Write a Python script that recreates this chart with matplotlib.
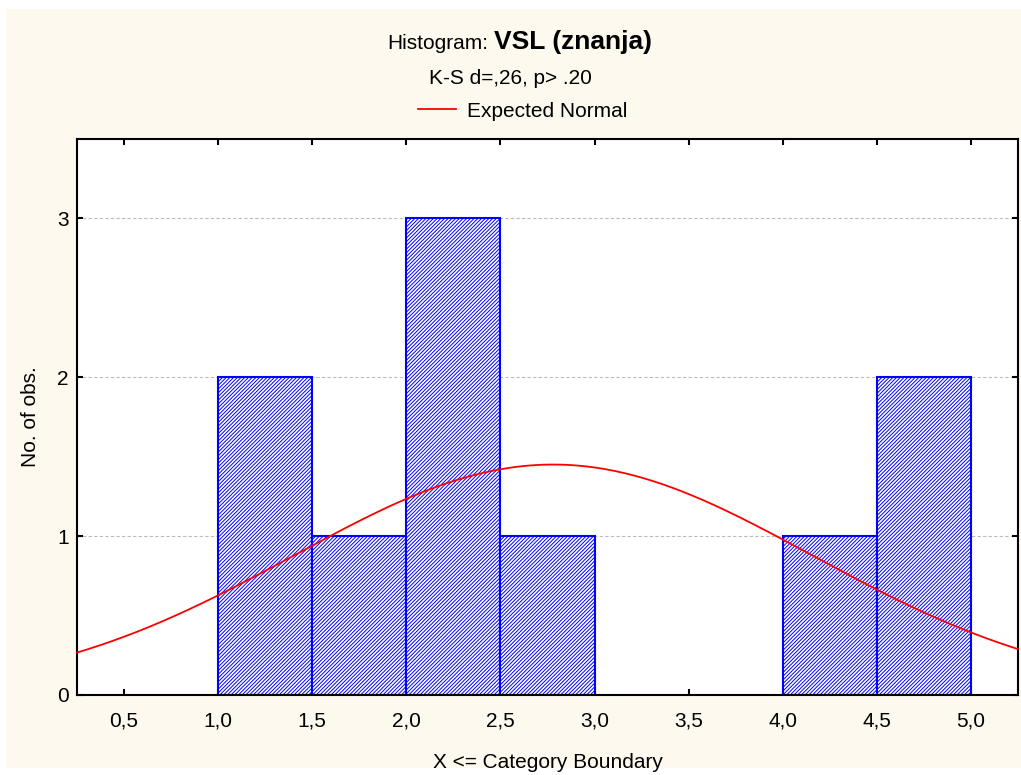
import matplotlib
matplotlib.use('Agg')

import numpy as np
import matplotlib.pyplot as plt
from matplotlib.patches import Rectangle
from matplotlib.lines import Line2D

plt.rcParams['font.family'] = ['Liberation Sans', 'DejaVu Sans']
plt.rcParams['hatch.color'] = '#0000ff'
plt.rcParams['hatch.linewidth'] = 0.7

# 数据：类别边界与频数
bin_left = [1.0, 1.5, 2.0, 2.5, 4.0, 4.5]
counts = [2, 1, 3, 1, 1, 2]
bin_width = 0.5
n_obs = 10
mean_val = 2.78
sd_val = 1.375
x_ticks = [0.5, 1.0, 1.5, 2.0, 2.5, 3.0, 3.5, 4.0, 4.5, 5.0]
x_tick_labels = ['0,5', '1,0', '1,5', '2,0', '2,5', '3,0', '3,5', '4,0', '4,5', '5,0']
y_ticks = [0, 1, 2, 3]

W, H = 1021, 775
fig = plt.figure(figsize=(W / 100, H / 100), dpi=100)
fig.patch.set_facecolor('white')
# 奶油色背景（留白边）
fig.patches.append(Rectangle((6 / W, 7 / H), 1, 1 - 16 / H,
                             transform=fig.transFigure, facecolor='#fef9ef',
                             edgecolor='none', zorder=-10))

ax = fig.add_axes([77 / W, 1 - 695 / H, (1018 - 77) / W, (695 - 139) / H])
ax.set_facecolor('white')

# 直方图
ax.bar(bin_left, counts, width=bin_width, align='edge', facecolor='white',
       edgecolor='#0000ff', linewidth=1.5, hatch='/////////', zorder=2)

# 期望正态曲线
xs = np.linspace(0.25, 5.25, 400)
ys = n_obs * bin_width / (sd_val * np.sqrt(2 * np.pi)) * np.exp(-0.5 * ((xs - mean_val) / sd_val) ** 2)
ax.plot(xs, ys, color='#ff0000', linewidth=1.3, zorder=3, clip_on=False)

ax.set_xlim(0.25, 5.25)
ax.set_ylim(0, 3.5)
ax.set_xticks(x_ticks)
ax.set_xticklabels(x_tick_labels)
ax.set_yticks(y_ticks)
ax.tick_params(direction='in', length=4, width=1.5, labelsize=15, color='black',
               top=True, right=True)
ax.tick_params(axis='x', pad=12)
ax.tick_params(axis='y', pad=6)
ax.yaxis.grid(True, linestyle=(0, (3, 2)), color='#bbbbbb', linewidth=0.8, zorder=0)
ax.set_axisbelow(True)
for s in ax.spines.values():
    s.set_linewidth(1.5)

ax.set_xlabel('X <= Category Boundary', fontsize=15, labelpad=16)
ax.set_ylabel('No. of obs.', fontsize=15, labelpad=12)

# 标题
fig.text(488 / W, 1 - 49 / H, 'Histogram:', ha='right', va='baseline', fontsize=15)
fig.text(494 / W, 1 - 49 / H, 'VSL (znanja)', ha='left', va='baseline', fontsize=19,
         fontweight='bold')
fig.text(0.5, 1 - 84 / H, 'K-S d=,26, p> .20', ha='center', va='baseline', fontsize=15)
fig.lines.append(Line2D([418 / W, 456 / W], [1 - 109 / H, 1 - 109 / H],
                        transform=fig.transFigure, color='#ff0000', linewidth=1.3))
fig.text(467 / W, 1 - 117 / H, 'Expected Normal', ha='left', va='baseline', fontsize=15)

plt.savefig('out.png', dpi=100, facecolor=fig.get_facecolor())
